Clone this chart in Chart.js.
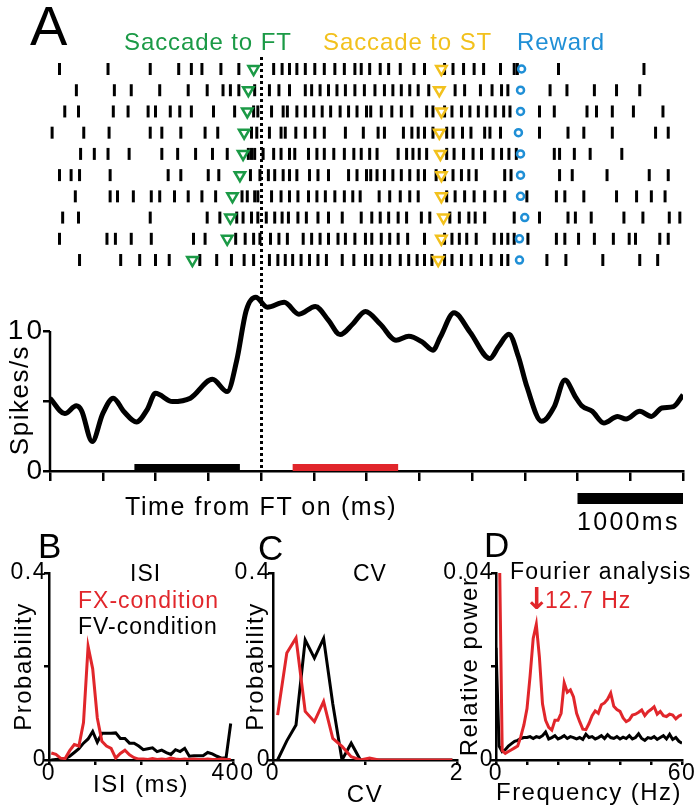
<!DOCTYPE html>
<html>
<head>
<meta charset="utf-8">
<title>Raster, PSTH, ISI, CV and Fourier panels</title>
<script src="https://cdn.jsdelivr.net/npm/chart.js@4.4.1/dist/chart.umd.min.js"></script>
<style>
  body { margin: 0; background: #fff; }
  #fig { position: relative; width: 700px; height: 811px; overflow: hidden; font-family: "Liberation Sans", Arial, sans-serif; color: #000; }
  #fig canvas { position: absolute; left: 0; pointer-events: none; }
  .t { position: absolute; white-space: nowrap; line-height: 1; }
  .v { position: absolute; white-space: nowrap; text-align: center; transform: rotate(-90deg); }
</style>
</head>
<body>
<div id="fig">
  <canvas id="chartA" width="700" height="545" style="top:0"></canvas>
  <canvas id="chartB" width="700" height="266" style="top:545px"></canvas>
  <canvas id="chartC" width="700" height="266" style="top:545px"></canvas>
  <canvas id="chartD" width="700" height="266" style="top:545px"></canvas>

  <!-- panel A texts -->
  <div class="t" style="left:30px;top:-2px;font-size:56px">A</div>
  <div class="t" style="left:124px;top:30px;font-size:24px;letter-spacing:0.9px;color:#1b9a46">Saccade to FT</div>
  <div class="t" style="left:323px;top:30px;font-size:24px;letter-spacing:0.9px;color:#f2c11d">Saccade to ST</div>
  <div class="t" style="left:517px;top:30px;font-size:24px;letter-spacing:0.9px;color:#1f8fd6">Reward</div>
  <div class="v" style="left:-61px;top:385px;width:160px;height:30px;line-height:30px;font-size:26px;letter-spacing:1.5px">Spikes/s</div>
  <div class="t" style="left:125px;top:494px;font-size:25px;letter-spacing:1.6px">Time from FT on (ms)</div>
  <div class="t" style="left:577px;top:509px;font-size:25px;letter-spacing:2.3px">1000ms</div>

  <!-- panels B, C, D texts -->
  <div class="t" style="left:38px;top:528px;font-size:35px">B</div>
  <div class="t" style="left:258px;top:530px;font-size:35px">C</div>
  <div class="t" style="left:484px;top:527px;font-size:35px">D</div>
  <div class="t" style="left:130px;top:562px;font-size:23px;letter-spacing:1px">ISI</div>
  <div class="t" style="left:78px;top:589px;font-size:23px;letter-spacing:1px;color:#e1262b">FX-condition</div>
  <div class="t" style="left:78px;top:615px;font-size:23px;letter-spacing:1px">FV-condition</div>
  <div class="t" style="left:353px;top:562px;font-size:23px;letter-spacing:1px">CV</div>
  <div class="t" style="left:510px;top:560px;font-size:23px;letter-spacing:1.2px">Fourier analysis</div>
  <div class="t" style="left:524px;top:584px;font-size:30px;font-weight:bold;font-family:'DejaVu Sans',sans-serif;color:#e1262b">↓</div>
  <div class="t" style="left:545px;top:589px;font-size:23px;letter-spacing:1px;color:#e1262b">12.7 Hz</div>
</div>

<script>
// colours
const GREEN = "#1b9a46";
const YELLOW = "#f2c11d";
const BLUE = "#1f8fd6";
const RED = "#e1262b";

// ---------- panel A data (time in ms from FT on) ----------
const timeRangeMs = [-2000, 4000];
const timeTickStepMs = 500;
const ftOnMs = 0;
const scaleBarMs = [3000, 4000];
const fvPeriodMs = [-1200, -200];   // black bar
const fxPeriodMs = [300, 1300];     // red bar

const spikeTimes = [
  [-1910,-1450,-1050,-780,-660,-560,-380,-210,120,200,270,340,420,510,600,700,790,890,950,1030,1130,1210,1320,1450,1550,1740,1820,1920,2020,2110,2270,2400,2430,2820,3630],
  [-1750,-1390,-1230,-960,-690,-510,-360,-290,-210,-60,80,170,270,420,480,560,640,720,800,890,980,1080,1170,1250,1330,1410,1490,1590,1840,1930,2080,2190,2280,2340,2740,2900,3160,3370,3590],
  [-1860,-1730,-1400,-1260,-1070,-1000,-860,-770,-660,-450,-250,-70,-30,100,210,250,340,420,500,580,660,750,830,910,1000,1040,1140,1240,1330,1430,1570,1630,1740,1810,1900,1980,2060,2140,2220,2300,2360,2640,2780,3090,3180,3330,3530,3810],
  [-1980,-1680,-1440,-1050,-940,-760,-530,-410,-90,-40,80,190,230,330,420,510,600,800,970,1110,1170,1350,1430,1490,1550,1630,1760,1820,1910,1990,2120,2170,2270,2640,2910,3060,3330,3740,3860],
  [-1710,-1580,-1450,-1250,-940,-790,-620,-460,-320,-120,-90,-60,20,120,190,270,320,450,530,600,690,790,880,950,1030,1100,1300,1380,1440,1500,1570,1760,1830,1920,2010,2090,2200,2280,2350,2420,2780,2830,2970,3120,3420],
  [-1910,-1800,-1720,-1430,-880,-760,-500,-400,-100,-10,70,130,210,270,340,460,540,640,830,910,1000,1040,1100,1170,1250,1330,1410,1490,1550,1660,1740,1820,1900,1970,2040,2310,2370,2830,2950,3280,3680,3860],
  [-1760,-1430,-1360,-1210,-1040,-960,-820,-690,-560,-430,-180,-130,-60,-30,100,190,270,350,450,530,610,700,790,870,940,1120,1220,1320,1410,1490,1760,1840,1930,2020,2120,2220,2310,2520,2800,2880,3060,3370,3560,3700,3830],
  [-1880,-1730,-1050,-510,-390,-230,-170,-90,-30,50,130,200,260,350,430,540,640,770,950,1050,1130,1210,1300,1380,1520,1600,1790,1880,1970,2030,2120,2400,2640,2910,2980,3130,3440,3620,3870,3970],
  [-1910,-1460,-1380,-1230,-1040,-640,-530,-240,-150,-70,-10,90,170,250,400,480,560,640,730,800,890,990,1050,1140,1220,1300,1390,1550,1740,1810,1880,1950,2040,2210,2280,2340,2400,2530,2800,2880,3010,3160,3340,3490,3550,3780,3860],
  [-1720,-1330,-1150,-1000,-870,-580,-420,-280,-160,-70,80,160,230,300,380,460,540,620,770,880,990,1050,1140,1220,1320,1400,1480,1550,1620,1740,1810,1900,1990,2090,2180,2280,2340,2710,2890,3240,3590,3760]
];
const saccadeFT = [-70, -120, -130, -160, -170, -200, -270, -290, -320, -650];
const saccadeST = [1710, 1690, 1710, 1690, 1700, 1710, 1710, 1730, 1710, 1680];
const rewardTime = [2470, 2460, 2460, 2440, 2460, 2460, 2460, 2500, 2450, 2450];

const psthTime = [-2000,-1860,-1750,-1700,-1600,-1500,-1400,-1300,-1180,-1080,-1000,-840,-670,-460,-320,-230,-140,-50,60,220,360,515,640,750,870,990,1130,1280,1400,1530,1630,1700,1830,1980,2170,2250,2350,2440,2520,2660,2780,2880,2980,3040,3140,3250,3380,3460,3590,3700,3800,3910,4000];
const psthRate = [5.2,4.1,4.66,4.3,2.1,4.1,5.2,4.25,3.5,4.37,5.55,4.96,5.2,6.55,5.67,7.9,11.46,12.4,11.7,12.05,11.2,11.75,10.76,9.74,10.5,11.4,10.5,9.34,9.62,9.2,8.63,9.57,11.3,9.93,8.04,8.87,9.76,8.16,6.03,3.55,4.6,6.5,5.3,4.66,4.26,3.43,3.9,3.71,4.26,3.9,4.5,4.6,5.44];
const psthTicks = [0, 5, 10];
const psthTickLabels = ["0", "", "10"];

// ---------- panel B: ISI histogram ----------
const isiBins = [5,15,25,35,45,55,65,75,85,95,105,115,125,135,145,155,165,175,185,195,205,215,225,235,245,255,265,275,285,295,305,315,325,335,345,355,365,375,385,395];
const fxISI = [0.015,0.012,0.004,0.003,0.02,0.033,0.03,0.08,0.243,0.195,0.09,0.04,0.03,0.025,0.004,0.014,0.021,0.011,0.005,0.002,0.002,0.001,0.003,0.001,0.002,0.001,0.004,0.002,0.001,0.002,0.001,0.002,0.001,0.001,0.002,0.001,0.001,0.002,0.001,0.001];
const fvISI = [0,0.001,0.002,0.003,0.008,0.016,0.024,0.036,0.045,0.061,0.038,0.057,0.057,0.057,0.058,0.046,0.046,0.036,0.036,0.03,0.022,0.024,0.026,0.018,0.021,0.016,0.012,0.022,0.018,0.025,0.008,0.009,0.009,0.009,0.016,0.013,0.008,0.004,0.005,0.078];
const isiTicks = [0, 100, 200, 300, 400];
const probTicks = [0, 0.2, 0.4];

// ---------- panel C: CV histogram ----------
const cvBins = [0.05,0.15,0.25,0.35,0.45,0.55,0.65,0.75,0.85,0.95,1.05,1.15,1.25,1.35,1.45,1.55,1.65,1.75,1.85,1.95];
const fxCV = [0.096,0.229,0.261,0.104,0.082,0.125,0.046,0.029,0.007,0,0.004,0,0,0,0,0,0,0,0,0];
const fvCV = [0,0.041,0.075,0.257,0.218,0.26,0.12,0,0.036,0,0,0,0,0,0,0,0,0,0,0];
const cvTicks = [0, 1, 2];

// ---------- panel D: Fourier power ----------
const freqHz = [0,1,2,3,4,5,6,7,8,9,10,11,12,13,14,15,16,17,18,19,20,21,22,23,24,25,26,27,28,29,30,31,32,33,34,35,36,37,38,39,40,41,42,43,44,45,46,47,48,49,50,51,52,53,54,55,56,57,58,59,60];
const fxPower = [null,0.05,0.002,0.0014,0.0018,0.0022,0.0026,0.003,0.005,0.0075,0.011,0.018,0.026,0.029,0.022,0.012,0.0085,0.007,0.0064,0.0085,0.0085,0.01,0.0165,0.0145,0.015,0.0135,0.01,0.0082,0.0066,0.0065,0.0078,0.0095,0.0105,0.01,0.0118,0.0122,0.013,0.0143,0.0115,0.0108,0.0104,0.009,0.0082,0.0086,0.0096,0.0098,0.0102,0.0107,0.0095,0.0103,0.0108,0.0114,0.0098,0.0104,0.0095,0.0093,0.0098,0.0096,0.0088,0.0094,0.0097];
const fvPower = [0.024,0.003,0.0018,0.0022,0.003,0.0035,0.004,0.0042,0.0046,0.0048,0.0048,0.005,0.0046,0.005,0.0048,0.0052,0.006,0.0045,0.0048,0.0052,0.0045,0.0048,0.0052,0.0046,0.005,0.0048,0.0045,0.0048,0.0044,0.0055,0.0048,0.005,0.0045,0.0048,0.0052,0.0046,0.0054,0.0048,0.0046,0.005,0.0045,0.0049,0.0046,0.0052,0.0045,0.0048,0.0056,0.0046,0.0042,0.0048,0.0046,0.005,0.0044,0.0048,0.0052,0.0045,0.0055,0.0044,0.0048,0.004,0.0036];
const freqTicks = [0, 10, 20, 30, 40, 50, 60];
const powerTicks = [0, 0.02, 0.04];

Chart.defaults.font.family = '"Liberation Sans", Arial, sans-serif';
Chart.defaults.color = "#000";

// letter spacing for the canvas text of one chart
const spacing = px => ({ id: "spacing", beforeDraw(chart) { chart.ctx.letterSpacing = px + "px"; } });

// ---------- panel A ----------
const spikePts = [];
spikeTimes.forEach((row, i) => row.forEach(t => spikePts.push({ x: t, y: i + 1 })));
const rowPts = times => times.map((t, i) => ({ x: t, y: i + 1 }));

const markerSet = (pts, style, color, radius) => ({
  data: pts, yAxisID: "yr", showLine: false, order: 0,
  pointStyle: style, pointRotation: style === "triangle" ? 180 : 0,
  pointRadius: radius, pointBorderWidth: 2.5,
  pointBorderColor: color, pointBackgroundColor: "#fff"
});

const barSet = (range, color) => ({
  data: range.map(t => ({ x: t, y: 0.25 })), yAxisID: "y", order: 3,
  borderColor: color, borderWidth: 7, borderCapStyle: "butt", pointRadius: 0
});

const panelAExtras = {
  id: "panelAExtras",
  afterDatasetsDraw(chart) {
    const { ctx, chartArea, scales } = chart;
    const x = scales.x, y = scales.y;
    ctx.save();
    // dotted line at FT on
    const x0 = Math.round(x.getPixelForValue(ftOnMs)) + 0.5;
    ctx.strokeStyle = "#000";
    ctx.lineWidth = 3;
    ctx.setLineDash([3, 3]);
    ctx.beginPath();
    ctx.moveTo(x0, chartArea.top + 2);
    ctx.lineTo(x0, chartArea.bottom);
    ctx.stroke();
    ctx.setLineDash([]);
    // y axis only from 0 to 10
    ctx.lineWidth = 2.5;
    ctx.beginPath();
    ctx.moveTo(chartArea.left, y.getPixelForValue(0) + 1);
    ctx.lineTo(chartArea.left, y.getPixelForValue(psthTicks[psthTicks.length - 1]));
    ctx.stroke();
    // 1000 ms scale bar
    const bx0 = x.getPixelForValue(scaleBarMs[0]);
    const bx1 = x.getPixelForValue(scaleBarMs[1]);
    ctx.fillStyle = "#000";
    ctx.fillRect(bx0, chartArea.bottom + 22, bx1 - bx0, 11);
    ctx.restore();
  }
};

new Chart(document.getElementById("chartA"), {
  type: "line",
  data: {
    datasets: [
      markerSet(rowPts(saccadeFT), "triangle", GREEN, 6),
      markerSet(rowPts(saccadeST), "triangle", YELLOW, 6),
      markerSet(rowPts(rewardTime), "circle", BLUE, 3.5),
      {
        data: spikePts, yAxisID: "yr", showLine: false, order: 1,
        pointStyle: "line", pointRotation: 90, pointRadius: 6,
        pointBorderWidth: 3, pointBorderColor: "#000"
      },
      {
        data: psthTime.map((t, i) => ({ x: t, y: psthRate[i] })), yAxisID: "y", order: 2,
        borderColor: "#000", borderWidth: 5, pointRadius: 0,
        cubicInterpolationMode: "monotone"
      },
      barSet(fvPeriodMs, "#000"),
      barSet(fxPeriodMs, RED)
    ]
  },
  options: {
    responsive: false, animation: false, events: [],
    layout: { padding: { left: 0, right: 17, top: 55, bottom: 0 } },
    plugins: { legend: { display: false }, tooltip: { enabled: false } },
    scales: {
      x: {
        type: "linear", min: timeRangeMs[0], max: timeRangeMs[1],
        ticks: { display: false, stepSize: timeTickStepMs },
        afterFit: s => { s.height = 74; },
        grid: { drawOnChartArea: false, color: "#000", lineWidth: 2.5, tickLength: 10 },
        border: { color: "#000", width: 2.5 }
      },
      y: {
        type: "linear", position: "left", min: 0, max: 29.71,
        afterBuildTicks: s => { s.ticks = psthTicks.map(v => ({ value: v })); },
        afterFit: s => { s.width = 50; },
        ticks: { font: { size: 28 }, padding: -2, autoSkip: false, callback: (v, i) => psthTickLabels[i] },
        grid: { drawOnChartArea: false, color: "#000", lineWidth: 2.5, tickLength: 7 },
        border: { display: false }
      },
      yr: { type: "linear", display: false, min: 0.34, max: 19.94, reverse: true }
    }
  },
  plugins: [panelAExtras, spacing(3)]
});

// ---------- panels B, C, D ----------
const endLabels = (v, i, ticks) => (i === 0 || i === ticks.length - 1) ? String(v) : "";

function smallPanel(id, o) {
  const line = (ys, color, order) => ({
    data: o.x.map((x, i) => ({ x: x, y: ys[i] })),
    borderColor: color, borderWidth: 3, pointRadius: 0, tension: 0, order: order
  });
  return new Chart(document.getElementById(id), {
    type: "line",
    data: { datasets: [line(o.red, RED, 0), line(o.black, "#000", 1)] },
    options: {
      responsive: false, animation: false, events: [],
      layout: { padding: { left: o.left, right: o.right, top: 28, bottom: 0 } },
      plugins: { legend: { display: false }, tooltip: { enabled: false } },
      scales: {
        x: {
          type: "linear", min: o.xTicks[0], max: o.xTicks[o.xTicks.length - 1],
          afterBuildTicks: s => { s.ticks = o.xTicks.map(v => ({ value: v })); },
          afterFit: s => { s.height = 51; },
          ticks: { font: { size: 23 }, padding: -5, maxRotation: 0, autoSkip: false, callback: endLabels },
          grid: { drawOnChartArea: false, color: "#000", lineWidth: 2.5, tickLength: 5 },
          border: { color: "#000", width: 2.5 },
          title: { display: true, text: o.xTitle, font: { size: 24 }, padding: { top: 0, bottom: o.xTitlePad } }
        },
        y: {
          type: "linear", min: o.yTicks[0], max: o.yTicks[o.yTicks.length - 1],
          afterBuildTicks: s => { s.ticks = o.yTicks.map(v => ({ value: v })); },
          afterFit: s => { s.width = o.yWidth; },
          ticks: { font: { size: 23 }, padding: -3, autoSkip: false, callback: endLabels },
          grid: { drawOnChartArea: false, color: "#000", lineWidth: 2.5, tickLength: 5 },
          border: { color: "#000", width: 2.5 },
          title: { display: true, text: o.yTitle, font: { size: 24 }, padding: { top: o.yTitlePad, bottom: 0 } }
        }
      }
    },
    plugins: [spacing(o.spacing)]
  });
}

smallPanel("chartB", {
  x: isiBins, red: fxISI, black: fvISI, xTicks: isiTicks, yTicks: probTicks, spacing: 1.5,
  left: 0, right: 467, yWidth: 49, xTitle: "ISI (ms)", xTitlePad: 11, yTitle: "Probability", yTitlePad: 10
});
smallPanel("chartC", {
  x: cvBins, red: fxCV, black: fvCV, xTicks: cvTicks, yTicks: probTicks, spacing: 1.5,
  left: 223, right: 243, yWidth: 50, xTitle: "CV", xTitlePad: 1, yTitle: "Probability", yTitlePad: 19
});
smallPanel("chartD", {
  x: freqHz, red: fxPower, black: fvPower, xTicks: freqTicks, yTicks: powerTicks, spacing: 1.5,
  left: 432, right: 18, yWidth: 64, xTitle: "Frequency (Hz)", xTitlePad: 3, yTitle: "Relative power", yTitlePad: 24
});
</script>
</body>
</html>
